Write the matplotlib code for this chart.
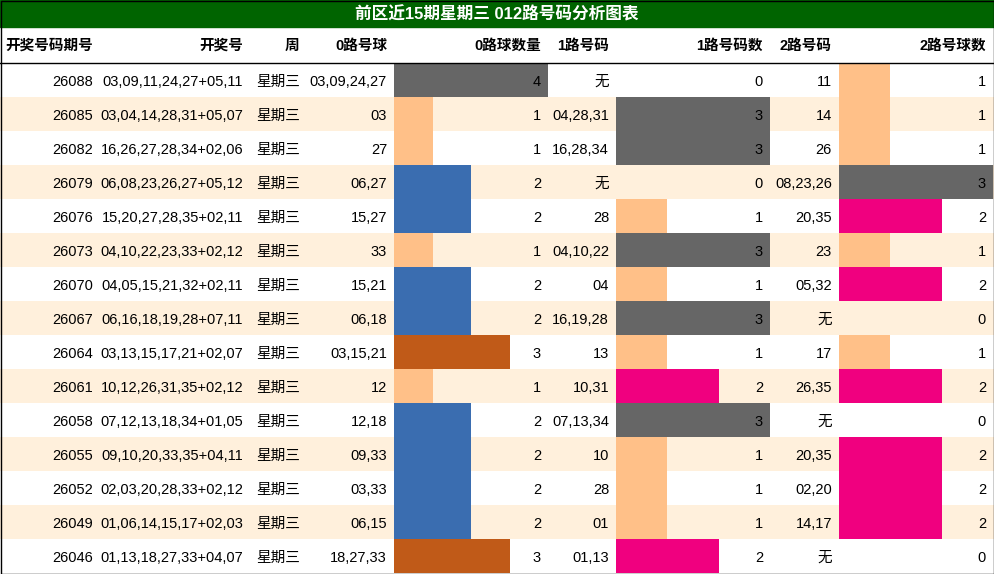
import matplotlib
matplotlib.use("Agg")
import matplotlib.pyplot as plt
from matplotlib.patches import Rectangle

plt.rcParams['font.family'] = ['Liberation Sans', 'Noto Sans CJK SC', 'DejaVu Sans']

title = "前区近15期星期三 012路号码分析图表"
headers = ["开奖号码期号", "开奖号", "周", "0路号球", "0路球数量", "1路号码", "1路号码数", "2路号码", "2路号球数"]

issues = ["26088", "26085", "26082", "26079", "26076", "26073", "26070", "26067",
          "26064", "26061", "26058", "26055", "26052", "26049", "26046"]
draws = ["03,09,11,24,27+05,11", "03,04,14,28,31+05,07", "16,26,27,28,34+02,06",
         "06,08,23,26,27+05,12", "15,20,27,28,35+02,11", "04,10,22,23,33+02,12",
         "04,05,15,21,32+02,11", "06,16,18,19,28+07,11", "03,13,15,17,21+02,07",
         "10,12,26,31,35+02,12", "07,12,13,18,34+01,05", "09,10,20,33,35+04,11",
         "02,03,20,28,33+02,12", "01,06,14,15,17+02,03", "01,13,18,27,33+04,07"]
weekday = "星期三"
r0 = ["03,09,24,27", "03", "27", "06,27", "15,27", "33", "15,21", "06,18",
      "03,15,21", "12", "12,18", "09,33", "03,33", "06,15", "18,27,33"]
n0 = [4, 1, 1, 2, 2, 1, 2, 2, 3, 1, 2, 2, 2, 2, 3]
r1 = ["无", "04,28,31", "16,28,34", "无", "28", "04,10,22", "04", "16,19,28",
      "13", "10,31", "07,13,34", "10", "28", "01", "01,13"]
n1 = [0, 3, 3, 0, 1, 3, 1, 3, 1, 2, 3, 1, 1, 1, 2]
r2 = ["11", "14", "26", "08,23,26", "20,35", "23", "05,32", "无",
      "17", "26,35", "无", "20,35", "02,20", "14,17", "无"]
n2 = [1, 1, 1, 3, 2, 1, 2, 0, 1, 2, 0, 2, 2, 2, 0]

col0_colors = {1: "#FFC088", 2: "#3A6DB0", 3: "#C05A18", 4: "#666666"}
col12_colors = {1: "#FFC088", 2: "#F0007F", 3: "#666666", 4: "#666666"}

W, H = 994, 574
fig = plt.figure(figsize=(W / 100, H / 100), dpi=100)
ax = fig.add_axes([0, 0, 1, 1])
ax.set_xlim(0, W)
ax.set_ylim(H, 0)
ax.axis('off')

# title bar
ax.add_patch(Rectangle((0, 0), W, 27, color="#006400"))
ax.text(W / 2, 14, title, color="white", fontsize=12, fontweight='bold', ha='center', va='center')

edges = [0, 100, 250, 305, 394, 548, 616, 770, 839, 993]
right_x = [93, 243, None, 387, 541, 609, 763, 832, 986]
header_y = 46
for i, h in enumerate(headers):
    if i == 2:
        ax.text(292, header_y, h, fontsize=10.5, fontweight='bold', ha='center', va='center')
    else:
        ax.text(right_x[i], header_y, h, fontsize=10.5, fontweight='bold', ha='right', va='center')
ax.plot([0, W], [62.5, 62.5], color="black", lw=1)

top, rh = 63, 34
fs = 10.5
bar_cols = [(edges[4], edges[5] - edges[4], n0, col0_colors),
            (edges[6], edges[7] - edges[6], n1, col12_colors),
            (edges[8], edges[9] - edges[8], n2, col12_colors)]
for r in range(len(issues)):
    y0 = top + r * rh
    yc = y0 + rh / 2 + 2
    if r % 2 == 1:
        ax.add_patch(Rectangle((0, y0), W, rh, color="#FFF0DC", lw=0))
    for start, width, counts, cmap in bar_cols:
        n = counts[r]
        if n > 0:
            ax.add_patch(Rectangle((start, y0), n * width / max(counts), rh, color=cmap[n], lw=0))
    vals = [issues[r], draws[r], None, r0[r], str(n0[r]), r1[r], str(n1[r]), r2[r], str(n2[r])]
    for i, v in enumerate(vals):
        if i == 2:
            ax.text(278, yc, weekday, fontsize=fs, ha='center', va='center')
        else:
            ax.text(right_x[i], yc, v, fontsize=fs, ha='right', va='center')

ax.add_patch(Rectangle((0.5, 0.5), W - 1, H - 1, fill=False, ec="black", lw=1))
fig.savefig("out.png", dpi=100)
